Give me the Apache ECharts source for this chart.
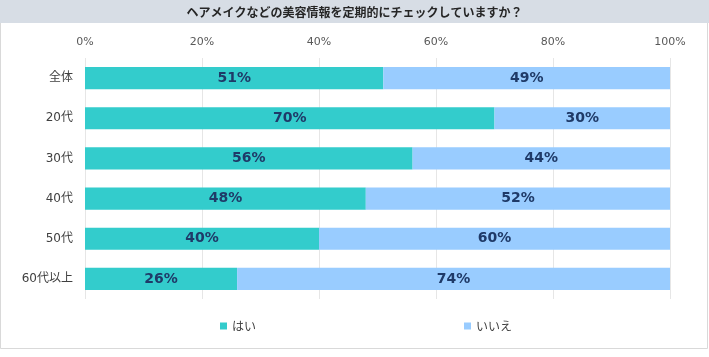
<!DOCTYPE html>
<html><head><meta charset="utf-8">
<script src="https://cdn.jsdelivr.net/npm/echarts@6/dist/echarts.min.js"></script>
<style>html,body{margin:0;padding:0;background:#fff}#c{width:709px;height:357px}</style>
</head><body><div id="c"></div>
<script>
const title = 'ヘアメイクなどの美容情報を定期的にチェックしていますか？';
const categories = ['全体','20代','30代','40代','50代','60代以上'];
const seriesNames = ['はい','いいえ'];
const yesValues = [51,70,56,48,40,26];
const noValues = [49,30,44,52,60,74];
const tickLabels = ['0%','20%','40%','60%','80%','100%'];

const font = '"Noto Sans CJK JP", "Noto Sans", sans-serif';
const fontV = '"DejaVu Sans", "Noto Sans CJK JP", sans-serif';
const chart = echarts.init(document.getElementById('c'));
const labelStyle = {show:true, position:'inside', formatter:'{c}%', fontFamily:fontV, fontSize:14, fontWeight:'bold', color:'#1f3a68'};
chart.setOption({
  animation:false,
  graphic:[
    {type:'rect', shape:{x:0.5,y:0.5,width:707,height:348}, style:{fill:'#fff', stroke:'#d9d9d9', lineWidth:1}, z:-10},
    {type:'rect', shape:{x:0,y:0,width:709,height:23}, style:{fill:'#d7dde5'}, z:-5}
  ],
  title:{text:title, left:'center', top:1, textStyle:{fontFamily:font, fontSize:12, fontWeight:'bold', color:'#262626'}},
  grid:{left:85, right:39, top:58, bottom:58, containLabel:false},
  legend:[
    {data:[seriesNames[0]], left:215, top:315, icon:'rect', itemWidth:7, itemHeight:7, itemGap:4, textStyle:{fontFamily:font, fontSize:12, color:'#404040'}},
    {data:[seriesNames[1]], left:459, top:315, icon:'rect', itemWidth:7, itemHeight:7, itemGap:4, textStyle:{fontFamily:font, fontSize:12, color:'#404040'}}
  ],
  xAxis:{type:'value', position:'top', min:0, max:100, interval:20,
    axisLine:{show:false}, axisTick:{show:false},
    splitLine:{lineStyle:{color:'#e6e6e6', width:1}},
    axisLabel:{margin:10, fontFamily:fontV, fontSize:11, color:'#595959', formatter:(v)=>tickLabels[v/20]}
  },
  yAxis:{type:'category', data:categories, inverse:true,
    axisLine:{show:false}, axisTick:{show:false},
    axisLabel:{margin:12, fontFamily:fontV, fontSize:12, color:'#404040'}
  },
  series:[
    {name:seriesNames[0], type:'bar', stack:'t', data:yesValues, barWidth:'55%', itemStyle:{color:'#33cccc'}, label:labelStyle},
    {name:seriesNames[1], type:'bar', stack:'t', data:noValues, barWidth:'55%', itemStyle:{color:'#99ccff'}, label:labelStyle}
  ]
});
</script></body></html>
